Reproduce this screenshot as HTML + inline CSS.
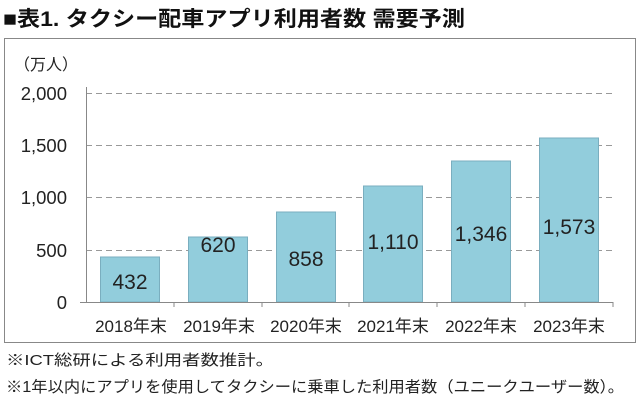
<!DOCTYPE html>
<html><head><meta charset="utf-8"><style>
body{margin:0;background:#fff;width:641px;height:403px;overflow:hidden;}
svg{display:block;font-family:"Liberation Sans","Noto Sans CJK JP",sans-serif;}
</style></head><body>
<svg width="641" height="403" viewBox="0 0 641 403">
<text x="3" y="26" font-size="21" font-weight="bold" fill="#111" textLength="462" lengthAdjust="spacingAndGlyphs">■表1. タクシー配車アプリ利用者数 需要予測</text>
<rect x="4.5" y="38.5" width="631" height="304" fill="#fff" stroke="#888" stroke-width="1"/>
<text x="14" y="70" font-size="16" fill="#222">（万人）</text>
<g stroke="#999" stroke-dasharray="6,4" stroke-width="1">
<line x1="86" y1="93.5" x2="613" y2="93.5"/>
<line x1="86" y1="145.5" x2="613" y2="145.5"/>
<line x1="86" y1="197.5" x2="613" y2="197.5"/>
<line x1="86" y1="250.5" x2="613" y2="250.5"/>
</g>
<g font-size="18.5" fill="#222" text-anchor="end">
<text x="67" y="100">2,000</text>
<text x="67" y="152">1,500</text>
<text x="67" y="204">1,000</text>
<text x="67" y="257">500</text>
<text x="67" y="309">0</text>
</g>
<g fill="#92cddc" stroke="#7aaebf" stroke-width="1">
<rect x="100.5" y="257" width="59" height="45"/>
<rect x="188.5" y="237" width="59" height="65"/>
<rect x="276.5" y="212" width="59" height="90"/>
<rect x="363.5" y="186" width="59" height="116"/>
<rect x="451.5" y="161" width="59" height="141"/>
<rect x="539.5" y="138" width="59" height="164"/>
</g>
<line x1="86.5" y1="87" x2="86.5" y2="302" stroke="#888"/>
<line x1="80" y1="302.5" x2="613" y2="302.5" stroke="#888"/>
<g stroke="#888"><line x1="174" y1="302" x2="174" y2="307"/><line x1="262" y1="302" x2="262" y2="307"/><line x1="349" y1="302" x2="349" y2="307"/><line x1="437" y1="302" x2="437" y2="307"/><line x1="525" y1="302" x2="525" y2="307"/><line x1="613" y1="302" x2="613" y2="307"/></g>
<g font-size="21" fill="#222" text-anchor="middle">
<text x="130" y="289">432</text>
<text x="218" y="252">620</text>
<text x="306" y="266">858</text>
<text x="393" y="249">1,110</text>
<text x="481" y="241">1,346</text>
<text x="569" y="234">1,573</text>
</g>
<g font-size="17" fill="#222" text-anchor="middle">
<text x="131" y="332">2018年末</text>
<text x="219" y="332">2019年末</text>
<text x="306" y="332">2020年末</text>
<text x="393" y="332">2021年末</text>
<text x="481" y="332">2022年末</text>
<text x="569" y="332">2023年末</text>
</g>
<text x="6" y="365" font-size="15" fill="#222" textLength="268" lengthAdjust="spacingAndGlyphs">※ICT総研による利用者数推計。</text>
<text x="6" y="392" font-size="15.5" fill="#222" textLength="618" lengthAdjust="spacingAndGlyphs">※1年以内にアプリを使用してタクシーに乗車した利用者数（ユニークユーザー数）。</text>
</svg>
</body></html>
